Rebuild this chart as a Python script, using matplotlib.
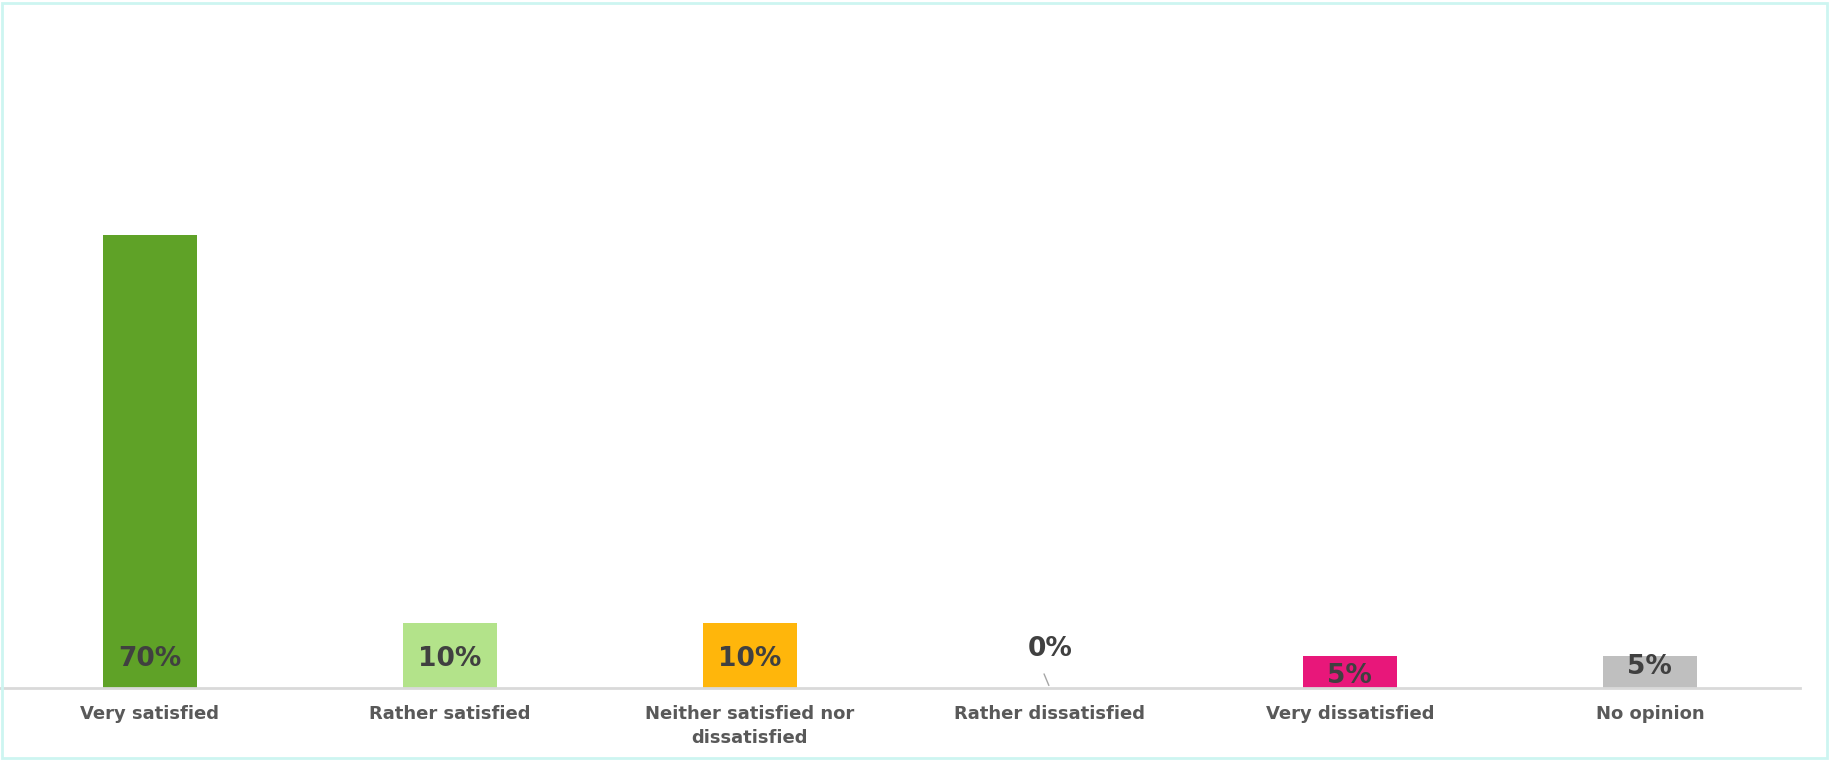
import numpy as np
import matplotlib
matplotlib.use("Agg")
import matplotlib.pyplot as plt
from matplotlib.patches import Rectangle

# Daten
categories = ["Very satisfied", "Rather satisfied", "Neither satisfied nor\ndissatisfied",
              "Rather dissatisfied", "Very dissatisfied", "No opinion"]
values = [70, 10, 10, 0, 5, 5]
labels = ["70%", "10%", "10%", "0%", "5%", "5%"]
colors = ["#5fa227", "#b3e38a", "#ffb60b", "#e8177a", "#e8177a", "#bfbfbf"]

plt.rcParams['font.family'] = ['DejaVu Sans']

fig = plt.figure(figsize=(18.31, 7.60), dpi=100)
ax = fig.add_axes([0.0, 0.0947, 0.983, 0.852])

x = np.arange(len(categories))
ax.bar(x, values, width=0.315, color=colors)
ax.set_xlim(-0.5, len(categories) - 0.5)
ax.set_ylim(0, 100)

# Wertelabels, Abstand zur Grundlinie in Punkten (wie im Original)
offsets = [21, 21, 21, 28, 8.5, 15]
for xi, lab, off in zip(x, labels, offsets):
    ax.annotate(lab, (xi, 0), xytext=(0, off), textcoords="offset points",
                ha="center", va="center", fontsize=19, fontweight="bold", color="#404040")
# Fuehrungslinie fuer 0%
ax.annotate("", (x[3], 0), xytext=(-5, 12), textcoords="offset points",
            arrowprops=dict(arrowstyle="-", color="#a6a6a6", lw=1))

ax.set_xticks(x)
ax.set_xticklabels(categories, fontsize=13, fontweight="bold", color="#595959", linespacing=1.4)
ax.tick_params(axis="x", length=0, pad=12.5)
ax.set_yticks([])
for s in ["top", "right", "left"]:
    ax.spines[s].set_visible(False)
ax.spines["bottom"].set_color("#d9d9d9")
ax.spines["bottom"].set_linewidth(2)

# Rahmen
fig.patches.append(Rectangle((0.001, 0.002), 0.997, 0.994, transform=fig.transFigure,
                             fill=False, edgecolor="#cdf5f1", lw=2))

fig.savefig("out.png", dpi=100)
